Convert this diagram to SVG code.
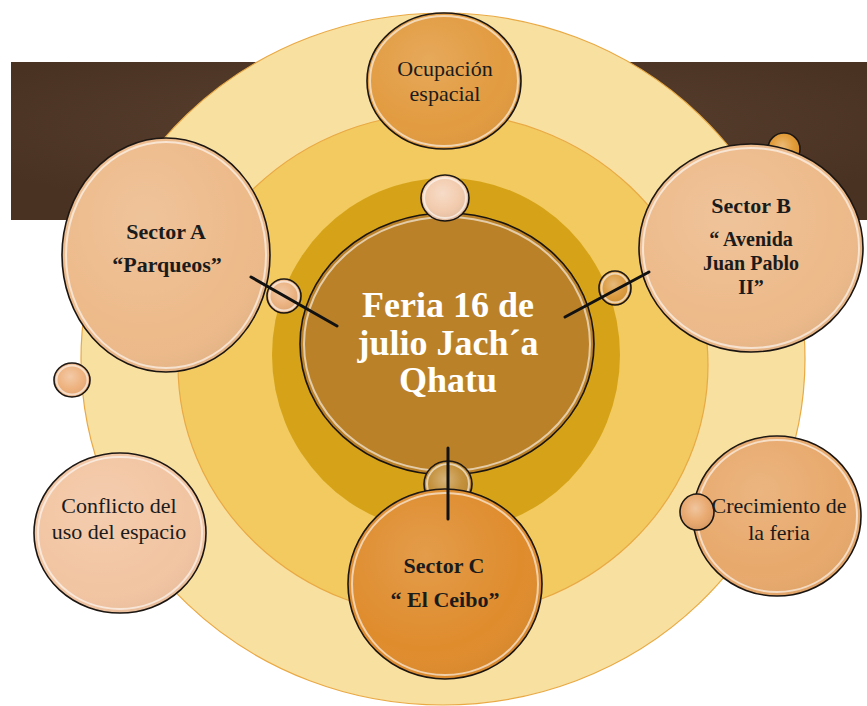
<svg xmlns="http://www.w3.org/2000/svg" width="867" height="706" viewBox="0 0 867 706">
<defs>
<radialGradient id="band" cx="0.5" cy="0.4" r="0.6">
<stop offset="0" stop-color="#5b4230"/>
<stop offset="1" stop-color="#4a3223"/>
</radialGradient>
<radialGradient id="gloss" cx="0.4" cy="0.35" r="0.7">
<stop offset="0" stop-color="#ffffff" stop-opacity="0.14"/>
<stop offset="0.7" stop-color="#ffffff" stop-opacity="0"/>
<stop offset="1" stop-color="#000000" stop-opacity="0.05"/>
</radialGradient>
<radialGradient id="bgloss" cx="0.45" cy="0.4" r="0.6">
<stop offset="0" stop-color="#ffffff" stop-opacity="0.35"/>
<stop offset="0.6" stop-color="#ffffff" stop-opacity="0.05"/>
<stop offset="1" stop-color="#000000" stop-opacity="0.08"/>
</radialGradient>
</defs>
<style>
.ring{stroke:#e9a944;stroke-width:1.2}
.node{stroke:#1a1410;stroke-width:1.6}
.hl{fill:none;stroke:#ffffff;stroke-opacity:0.6;stroke-width:2}
.gl{fill:url(#gloss)}
.bg{fill:url(#bgloss)}
.t{font-family:"Liberation Serif","Times New Roman",serif;fill:#1b1b1b;text-anchor:middle;font-size:22px}
.b{font-weight:bold}
.s{font-size:20px}
.c{font-family:"Liberation Serif","Times New Roman",serif;fill:#ffffff;font-weight:bold;text-anchor:middle;font-size:36px}
.con{stroke:#111111;stroke-width:3;fill:none;stroke-linecap:round}
</style>

<rect x="11" y="62" width="856" height="158" fill="url(#band)"/>

<g id="rings">
<ellipse cx="443" cy="359" rx="362" ry="346" fill="#f8e0a0" class="ring"/>
<ellipse cx="443" cy="365" rx="265" ry="252" fill="#f2ca5f" class="ring"/>
<ellipse cx="446" cy="355" rx="174" ry="177" fill="#d6a318"/>
</g>

<g id="feria">
<ellipse cx="447" cy="344" rx="147" ry="131" fill="#bb8128" class="node"/>
<ellipse cx="447" cy="344" rx="143" ry="127" class="hl"/>
<text class="c" x="448" y="317">Feria 16 de</text>
<text class="c" x="448" y="355">julio Jach´a</text>
<text class="c" x="448" y="392">Qhatu</text>
</g>

<g id="bubbles">
<g id="bubble-top"><ellipse cx="445" cy="198" rx="24" ry="23" fill="#f2c9aa" class="node"/><ellipse cx="445" cy="198" rx="24" ry="23" class="bg"/><ellipse cx="445" cy="198" rx="21" ry="20" class="hl"/></g>
<g id="bubble-a"><ellipse cx="284" cy="296" rx="17" ry="17" fill="#eaae7a" class="node"/><ellipse cx="284" cy="296" rx="17" ry="17" class="bg"/><ellipse cx="284" cy="296" rx="14.5" ry="14.5" class="hl"/></g>
<g id="bubble-b"><ellipse cx="615" cy="288" rx="16" ry="17" fill="#d99535" class="node"/><ellipse cx="615" cy="288" rx="16" ry="17" class="bg"/><ellipse cx="615" cy="288" rx="13.5" ry="14.5" class="hl"/></g>
<g id="bubble-c"><ellipse cx="448" cy="484" rx="24" ry="23" fill="#c08a30" class="node"/><ellipse cx="448" cy="484" rx="24" ry="23" class="bg"/><ellipse cx="448" cy="484" rx="21" ry="20" class="hl"/></g>
<g id="bubble-left"><ellipse cx="72" cy="380" rx="18" ry="17" fill="#edae78" class="node"/><ellipse cx="72" cy="380" rx="18" ry="17" class="bg"/><ellipse cx="72" cy="380" rx="15.5" ry="14.5" class="hl"/></g>
<g id="bubble-tr"><ellipse cx="784" cy="149" rx="16" ry="16" fill="#e0962e" class="node"/><ellipse cx="784" cy="149" rx="16" ry="16" class="bg"/></g>
</g>

<g id="ocupacion">
<ellipse cx="444" cy="81" rx="77" ry="68" fill="#e29b40" class="node"/>
<ellipse cx="444" cy="81" rx="77" ry="68" class="gl"/>
<ellipse cx="444" cy="81" rx="74" ry="65" class="hl"/>
<text class="t" x="445" y="76">Ocupación</text>
<text class="t" x="445" y="101">espacial</text>
</g>

<g id="sectorA">
<ellipse cx="166" cy="255" rx="104" ry="117" fill="#edba8a" class="node"/>
<ellipse cx="166" cy="255" rx="104" ry="117" class="gl"/>
<ellipse cx="166" cy="255" rx="100" ry="113" class="hl"/>
<text class="t b" x="166" y="239">Sector A</text>
<text class="t b" x="167" y="272">“Parqueos”</text>
</g>

<g id="sectorB">
<ellipse cx="751" cy="248" rx="112" ry="104" fill="#edba8a" class="node"/>
<ellipse cx="751" cy="248" rx="112" ry="104" class="gl"/>
<ellipse cx="751" cy="248" rx="108" ry="100" class="hl"/>
<text class="t b" x="751" y="213">Sector B</text>
<text class="t b s" x="751" y="246">“ Avenida</text>
<text class="t b s" x="751" y="270">Juan Pablo</text>
<text class="t b s" x="751" y="294">II”</text>
</g>

<g id="sectorC">
<ellipse cx="445" cy="584" rx="97" ry="95" fill="#df8c2d" class="node"/>
<ellipse cx="445" cy="584" rx="97" ry="95" class="gl"/>
<ellipse cx="445" cy="584" rx="93" ry="91" class="hl"/>
<text class="t b" x="444" y="573">Sector C</text>
<text class="t b" x="445" y="607">“ El Ceibo”</text>
</g>

<g id="conflicto">
<ellipse cx="120" cy="533" rx="86" ry="80" fill="#f2c5a2" class="node"/>
<ellipse cx="120" cy="533" rx="86" ry="80" class="gl"/>
<ellipse cx="120" cy="533" rx="82" ry="76" class="hl"/>
<text class="t" x="119" y="513">Conflicto del</text>
<text class="t" x="119" y="539">uso del espacio</text>
</g>

<g id="crecimiento">
<ellipse cx="777" cy="516" rx="84" ry="80" fill="#e8a96c" class="node"/>
<ellipse cx="777" cy="516" rx="84" ry="80" class="gl"/>
<ellipse cx="777" cy="516" rx="80" ry="76" class="hl"/>
<g id="bubble-cr"><ellipse cx="697" cy="512" rx="17" ry="18" fill="#e8a66a" class="node"/><ellipse cx="697" cy="512" rx="17" ry="18" class="bg"/></g>
<text class="t" x="779" y="513">Crecimiento de</text>
<text class="t" x="779" y="540">la feria</text>
</g>

<g id="connectors">
<line class="con" x1="251" y1="277" x2="337" y2="326"/>
<line class="con" x1="565" y1="317" x2="649" y2="272"/>
<line class="con" x1="448" y1="448" x2="448" y2="519"/>
</g>
</svg>
